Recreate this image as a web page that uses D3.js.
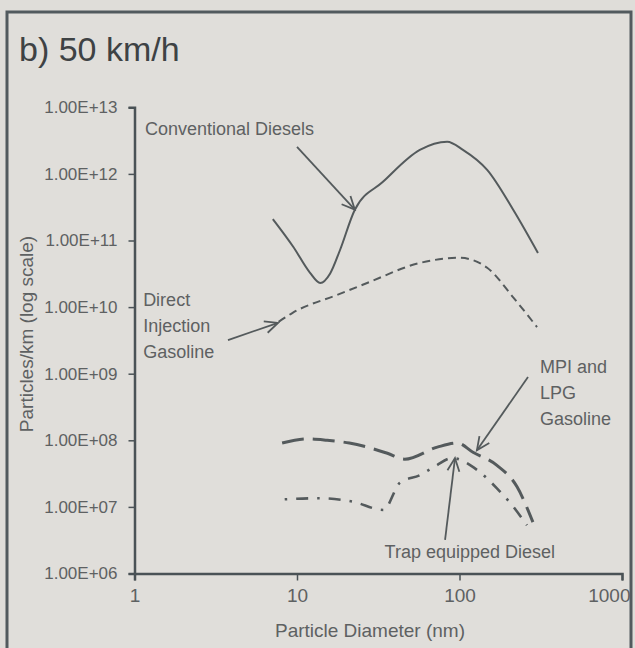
<!DOCTYPE html>
<html><head><meta charset="utf-8">
<script src="https://cdn.jsdelivr.net/npm/d3@7"></script>
<style>
html,body{margin:0;padding:0;background:#dfddd9;}
svg{display:block;font-family:"Liberation Sans",Arial,sans-serif;}
</style></head>
<body>
<svg id="chart" width="635" height="648"></svg>
<script>
// ---- data (particle diameter nm, particles/km) ----
const xTicks = [1, 10, 100, 1000];
const yTicks = [1e6, 1e7, 1e8, 1e9, 1e10, 1e11, 1e12, 1e13];
const yTickLabels = ["1.00E+06","1.00E+07","1.00E+08","1.00E+09","1.00E+10","1.00E+11","1.00E+12","1.00E+13"];

const convDiameter = [7.1, 9.5, 12, 13.9, 16, 18.4, 22.7, 33.8, 57, 84, 105, 148, 214, 304];
const convValues   = [2.1e11, 8e10, 3.3e10, 2.3e10, 3.2e10, 7.2e10, 2.9e11, 7.6e11, 2.3e12, 3.05e12, 2.3e12, 1.15e12, 2.9e11, 6.5e10];

const diDiameter = [7.7, 9.4, 18, 27, 57, 100, 148, 214, 300];
const diValues   = [6e9, 8.2e9, 1.55e10, 2.3e10, 4.6e10, 5.5e10, 3.9e10, 1.4e10, 5e9];

const mpiDiameter = [8.1, 11.5, 15.3, 21, 36, 46, 73, 97, 121, 170, 226, 283];
const mpiValues   = [9.1e7, 1.05e8, 1.0e8, 9.1e7, 6.4e7, 5.2e7, 7.9e7, 9.1e7, 6.6e7, 4.2e7, 2e7, 5.9e6];

const trapDiameter = [8.4, 13.5, 22, 34, 43, 57, 71, 90, 128, 170, 205, 260];
const trapValues   = [1.3e7, 1.35e7, 1.2e7, 9e6, 2.3e7, 3e7, 4.1e7, 5.4e7, 3.6e7, 1.9e7, 1.15e7, 5.3e6];

const seriesNames = ["Conventional Diesels", "Direct Injection Gasoline", "MPI and LPG Gasoline", "Trap equipped Diesel"];

// annotation anchors in data space: [diameter, value]
const annotations = [
  {lines:["Conventional Diesels"], text:[1.16, 3.8e12], anchor:"start", from:[10.0, 2.54e12], to:[22.7, 2.9e11]},
  {lines:["Direct","Injection","Gasoline"], text:[1.13, 1.03e10], anchor:"start", from:[3.76, 3.2e9], to:[7.64, 5.8e9]},
  {lines:["MPI and","LPG","Gasoline"], text:[313, 1.03e9], anchor:"start", from:[264, 8.9e8], to:[128, 7.1e7]},
  {lines:["Trap equipped Diesel"], text:[387, 1.7e6], anchor:"end", from:[81.5, 3.2e6], to:[93.8, 5.4e7]}
];

const svg = d3.select("#chart");
const ink = "#545a5c", axisInk = "#4a5256", textInk = "#5e6162";

// frame
svg.append("rect").attr("x",0).attr("y",0).attr("width",635).attr("height",648).attr("fill","#dfddd9");
svg.append("rect").attr("x",7).attr("y",12).attr("width",624).attr("height",700)
  .attr("fill","#e0deda").attr("stroke","#525a5e").attr("stroke-width",3);

svg.append("text").attr("x",19).attr("y",61).attr("font-size",34).attr("fill","#3e4244")
  .text("b) 50 km/h");

const x = d3.scaleLog().domain([1,1000]).range([134.5,622]);
const y = d3.scaleLog().domain([1e6,1e13]).range([573.5,107.3]);

// axes
const xAxis = d3.axisBottom(x).tickValues(xTicks).tickFormat(d3.format("d")).tickSize(7).tickPadding(8);
const gx = svg.append("g").attr("transform",`translate(0,${y(1e6)})`).call(xAxis);
gx.select(".domain").attr("stroke",axisInk).attr("stroke-width",2.5);
gx.selectAll(".tick line").attr("stroke",axisInk).attr("stroke-width",1.5);
gx.selectAll(".tick text").attr("font-size",19).attr("fill",textInk).attr("font-family","Liberation Sans, Arial, sans-serif");
gx.selectAll(".tick text").filter(d=>d===1000).attr("text-anchor","end").attr("dx",8);

const yAxis = d3.axisLeft(y).tickValues(yTicks).tickFormat((d,i)=>yTickLabels[i]).tickSize(6).tickPadding(11);
const gy = svg.append("g").attr("transform",`translate(${x(1)},0)`).call(yAxis);
gy.select(".domain").attr("stroke",axisInk).attr("stroke-width",2.5);
gy.selectAll(".tick line").attr("stroke",axisInk).attr("stroke-width",1.5);
gy.selectAll(".tick text").attr("font-size",17).attr("fill",textInk).attr("font-family","Liberation Sans, Arial, sans-serif");

svg.append("text").attr("x",370).attr("y",637).attr("text-anchor","middle").attr("font-size",19)
  .attr("fill",textInk).text("Particle Diameter (nm)");
svg.append("text").attr("transform","translate(33,334) rotate(-90)").attr("text-anchor","middle")
  .attr("font-size",19).attr("fill",textInk).text("Particles/km (log scale)");

// series
const line = d3.line().x(d=>x(d[0])).y(d=>y(d[1])).curve(d3.curveMonotoneX);
const series = [
  {d:convDiameter, v:convValues, dash:null, w:2},
  {d:diDiameter, v:diValues, dash:"8,5", w:2},
  {d:mpiDiameter, v:mpiValues, dash:"22,9", w:3},
  {d:trapDiameter, v:trapValues, dash:"2.5,9,12,9", w:2.6}
];
series.forEach((s,i)=>{
  svg.append("path").datum(s.d.map((dd,j)=>[dd,s.v[j]]))
    .attr("d",line).attr("fill","none").attr("stroke",ink).attr("stroke-width",s.w)
    .attr("stroke-dasharray",s.dash).attr("aria-label",seriesNames[i]);
});

// arrow marker
svg.append("defs").append("marker").attr("id","arr").attr("viewBox","-14 -8 16 16")
  .attr("refX",0).attr("refY",0).attr("markerWidth",16).attr("markerHeight",16)
  .attr("markerUnits","userSpaceOnUse").attr("orient","auto")
  .append("path").attr("d","M-13,-6 L0,0 L-13,6").attr("fill","none").attr("stroke",ink).attr("stroke-width",1.8);

annotations.forEach(a=>{
  svg.append("line").attr("x1",x(a.from[0])).attr("y1",y(a.from[1]))
    .attr("x2",x(a.to[0])).attr("y2",y(a.to[1])).attr("stroke",ink).attr("stroke-width",1.8)
    .attr("marker-end","url(#arr)");
  const t = svg.append("text").attr("x",x(a.text[0])).attr("y",y(a.text[1]))
    .attr("text-anchor",a.anchor).attr("font-size",18).attr("fill",textInk);
  a.lines.forEach((l,k)=>t.append("tspan").attr("x",x(a.text[0])).attr("dy",k===0?0:26).text(l));
});
</script>
</body></html>
